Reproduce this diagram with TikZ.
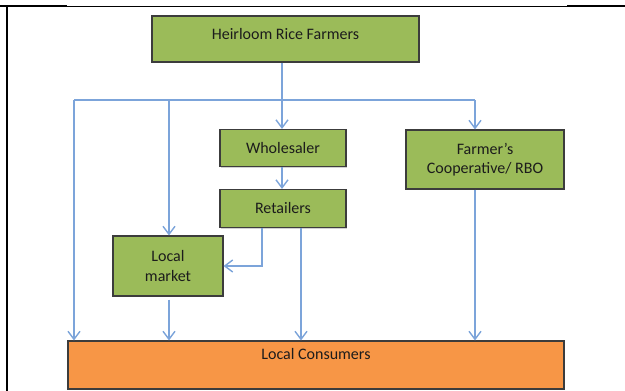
\documentclass[tikz,border=0pt]{standalone}
\usepackage{fontspec}
\setmainfont{Carlito}
\usetikzlibrary{arrows.meta,shadows}
\definecolor{boxgreen}{HTML}{9BBB59}
\definecolor{boxorange}{HTML}{F79646}
\definecolor{edgegrey}{HTML}{3C3C3C}
\definecolor{flowblue}{HTML}{7CA4DA}
\definecolor{inkdark}{HTML}{1C1C1C}
\tikzset{
  stage/.style={draw=edgegrey, line width=1.1pt, fill=boxgreen, text=inkdark,
    align=center, inner sep=0pt, font=\fontsize{16}{19.5}\selectfont,
    drop shadow={shadow xshift=1.3pt, shadow yshift=-1.3pt, fill=black!40, opacity=0.45}},
  sink/.style={stage, fill=boxorange},
  link/.style={draw=flowblue, line width=1.4pt},
  flow/.style={link, -{Straight Barb[length=8pt,width=12pt]}},
  rule/.style={line width=1.8pt, black},
  hairline/.style={line width=0.7pt, black}
}
\begin{document}
\begin{tikzpicture}[x=1pt, y=-1pt]
  \useasboundingbox (0,0) rectangle (625,391);

  % page rules
  \draw[rule] (0,6) -- (67,6);
  \draw[hairline] (67,6) -- (567,6);
  \draw[rule] (567,6) -- (625,6);
  \draw[rule] (7,5.1) -- (7,391);

  % stages of the chain
  \node[stage, minimum width=267pt, minimum height=46pt, text depth=10pt] (farmers) at (285.5,39) {Heirloom Rice Farmers};
  \node[stage, minimum width=126pt, minimum height=37pt] (whole) at (283,148) {Wholesaler};
  \node[stage, minimum width=126pt, minimum height=38pt] (retail) at (283,208.5) {Retailers};
  \node[stage, minimum width=158pt, minimum height=59pt] (coop) at (485,159.5) {Farmer’s\\Cooperative/ RBO};
  \node[stage, minimum width=110pt, minimum height=60pt] (market) at (168,266) {Local\\market};
  \node[sink, minimum width=496pt, minimum height=48pt, text height=12pt, text depth=24pt] (consumers) at (316,365) {Local Consumers};

  % branch points
  \coordinate (hub) at (282,100);
  \coordinate (west) at (74,100);
  \coordinate (mid) at (169,100);
  \coordinate (east) at (475,100);
  \coordinate (rA) at (262,0);
  \coordinate (rB) at (301,0);

  % distribution bar
  \draw[link] (farmers.south -| hub) -- (hub);
  \draw[link] (west) -- (east);

  % arrows from the bar
  \draw[flow] (hub) -- (whole.north -| hub);
  \draw[flow] (east) -- (coop.north -| east);
  \draw[flow] (mid) -- (market.north -| mid);
  \draw[flow] (west) -- (consumers.north -| west);

  % wholesaler to retailers
  \draw[flow] (whole.south -| hub) -- (retail.north -| hub);

  % retailers outflows
  \draw[flow] (retail.south -| rA) |- (market.east);
  \draw[flow] (retail.south -| rB) -- (consumers.north -| rB);

  % into local consumers
  \draw[flow] ([yshift=-3pt]market.south -| mid) -- (consumers.north -| mid);
  \draw[flow] (coop.south -| east) -- (consumers.north -| east);
\end{tikzpicture}
\end{document}
